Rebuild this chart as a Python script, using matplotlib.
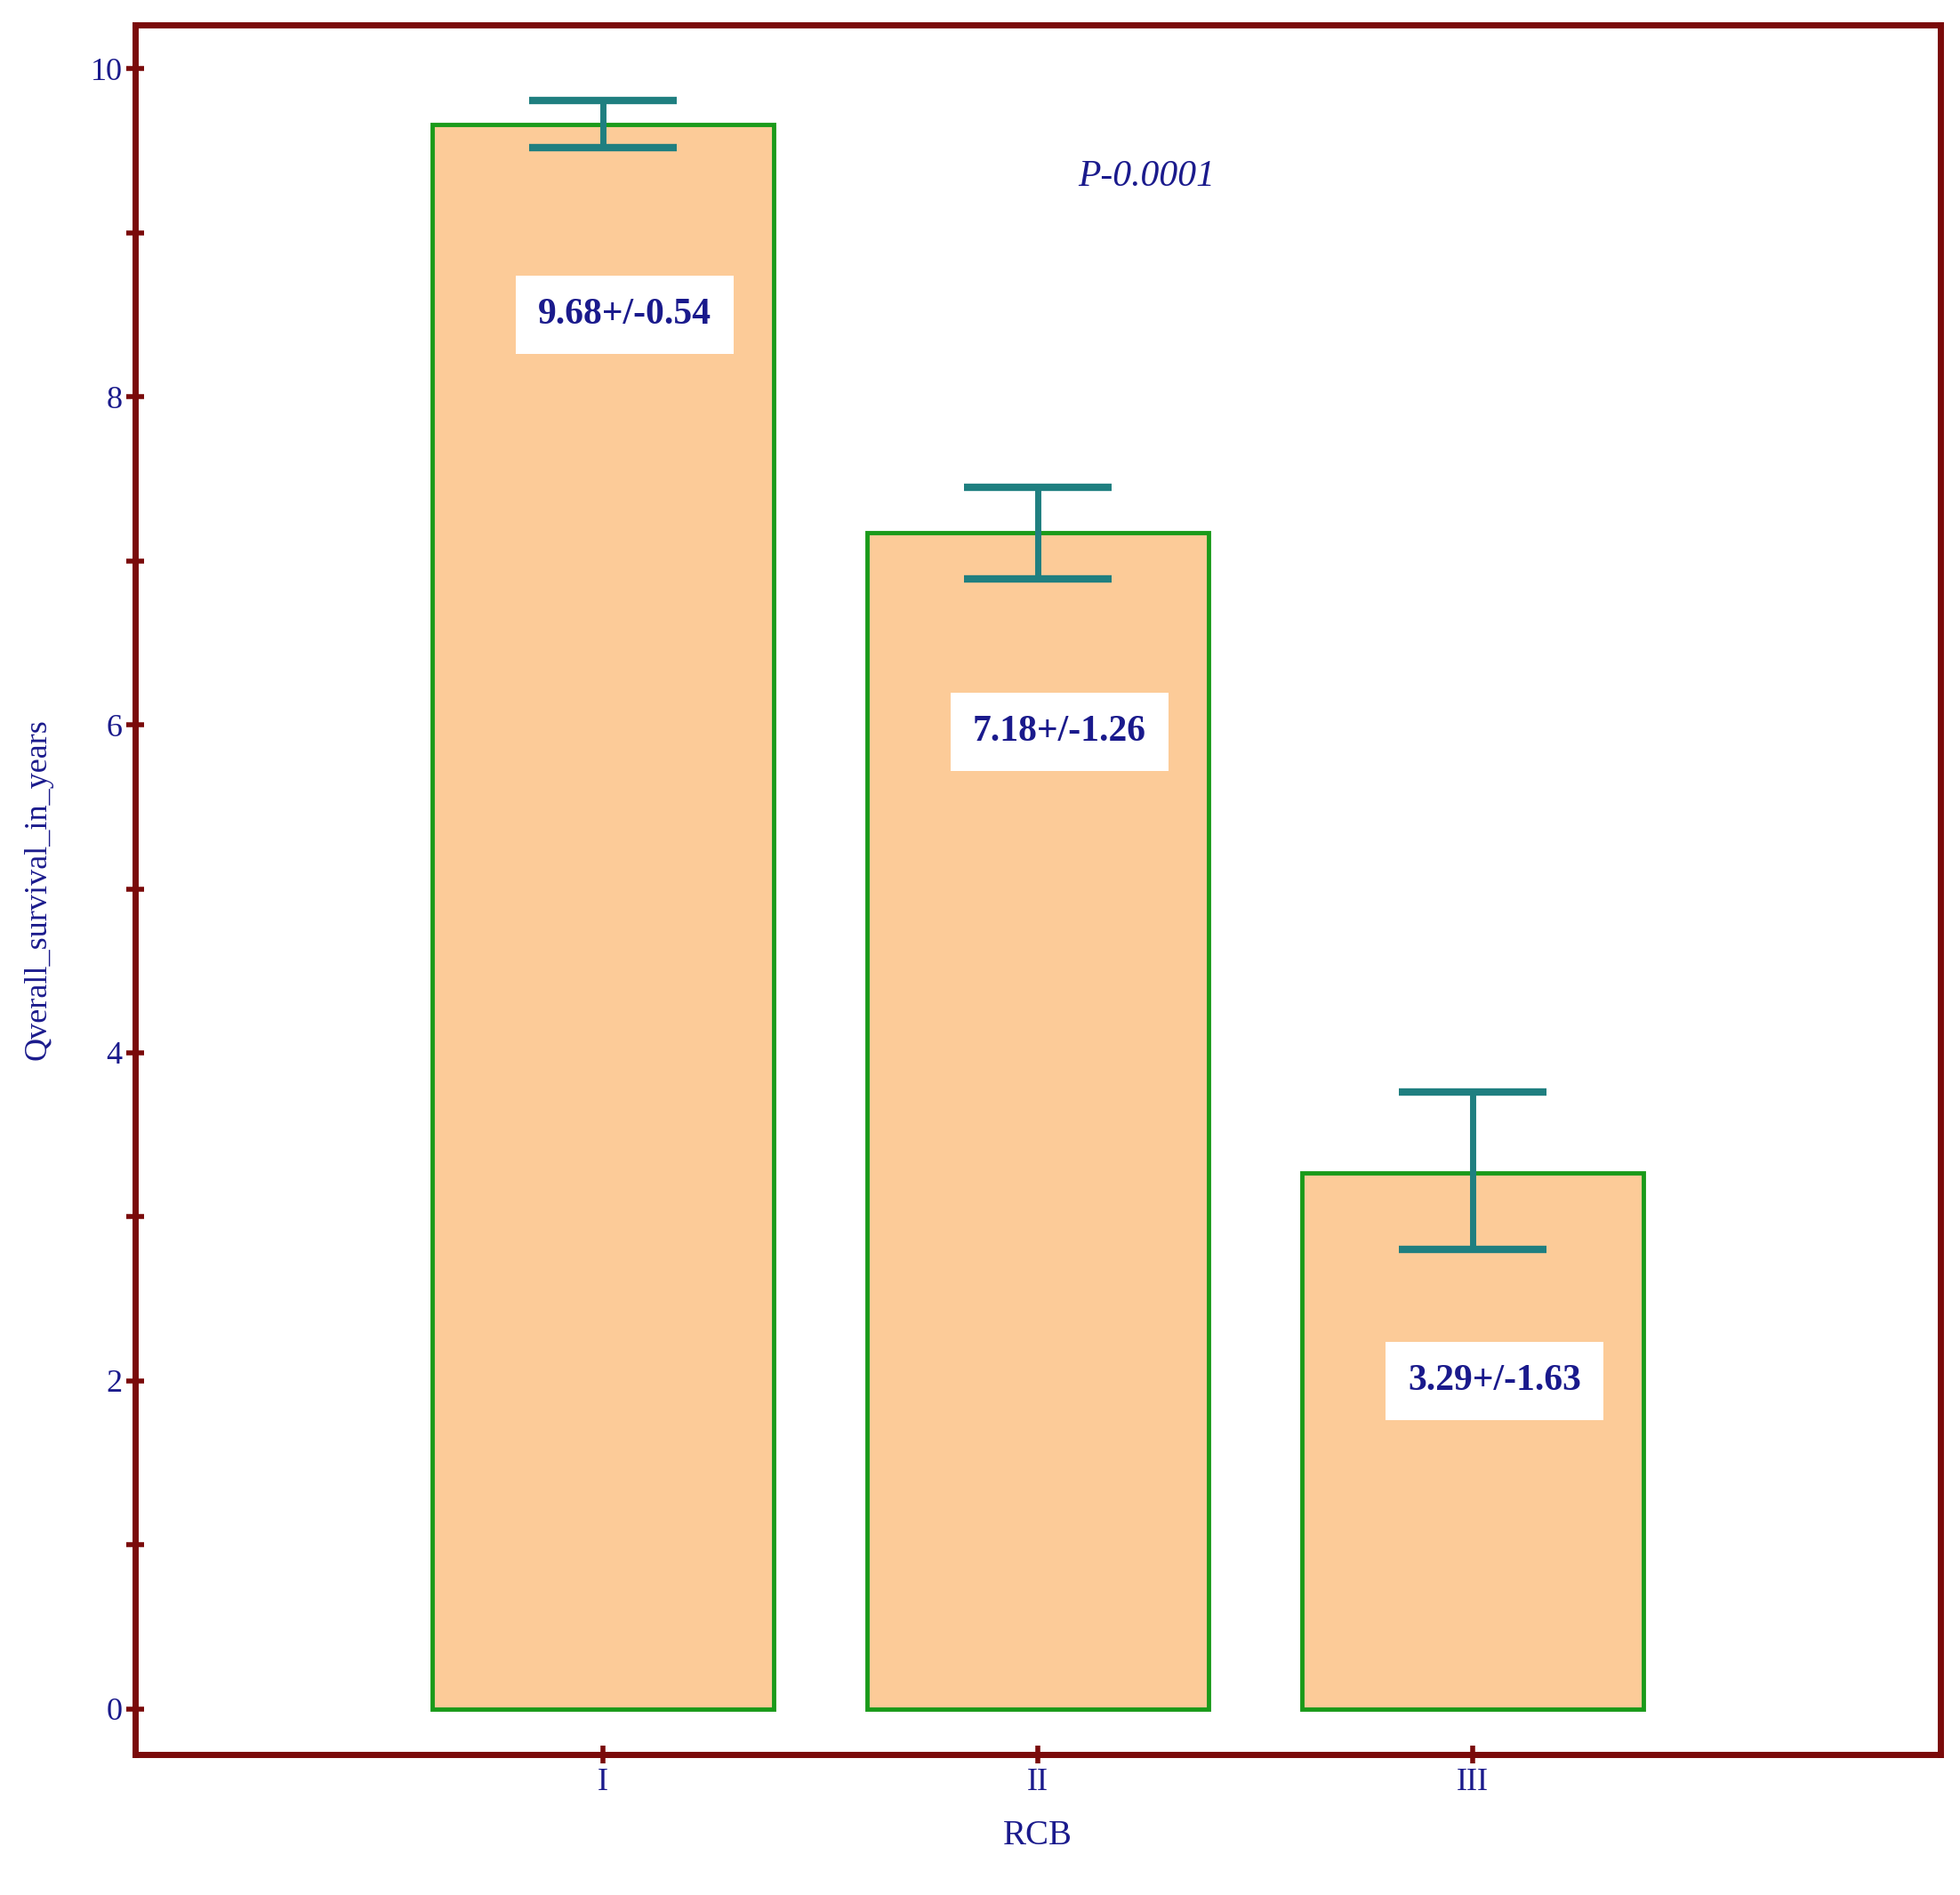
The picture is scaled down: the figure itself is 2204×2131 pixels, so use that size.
import matplotlib
matplotlib.use("Agg")
import matplotlib.pyplot as plt
import numpy as np

categories = ["I", "II", "III"]
means = [9.66, 7.17, 3.27]
err_low = [9.52, 6.89, 2.80]
err_high = [9.81, 7.45, 3.76]
labels = ["9.68+/-0.54", "7.18+/-1.26", "3.29+/-1.63"]
label_y = [8.5, 5.96, 2.0]

navy = "#1a1a8c"
red = "#7a0a0a"
fig = plt.figure(figsize=(22.04, 21.31), dpi=100)
ax = fig.add_axes([0.069, 0.074, 0.921, 0.913])
x = np.arange(len(categories))
ax.bar(x, means, width=0.785, color="#fccb98", edgecolor="#1a9a1a", linewidth=3.5, zorder=2)
lo = np.array(means) - np.array(err_low)
hi = np.array(err_high) - np.array(means)
ax.errorbar(x, means, yerr=[lo, hi], fmt="none", ecolor="#1f7f80", elinewidth=5, capsize=60, capthick=6, zorder=3)
for xi, t, yy in zip(x, labels, label_y):
    ax.text(xi + 0.05, yy, t, ha="center", va="center", fontsize=30, fontweight="bold", family="Liberation Serif",
            color=navy, bbox=dict(facecolor="white", edgecolor="none", pad=18), zorder=4)
ax.text(1.25, 9.34, "P-0.0001", fontsize=30, style="italic", family="Liberation Serif", color=navy, ha="center", va="center")
ax.set_xlim(-1.075, 3.075)
ax.set_ylim(-0.28, 10.27)
ax.set_xticks(x)
ax.set_xticklabels(categories)
ax.set_yticks(range(0, 11, 2))
ax.set_yticks(range(1, 10, 2), minor=True)
for s in ax.spines.values():
    s.set_color(red); s.set_linewidth(5)
ax.tick_params(axis="both", which="both", color=red, width=4, length=14, direction="inout")
ax.tick_params(axis="both", which="major", labelsize=26, labelcolor=navy)
for lab in ax.get_xticklabels() + ax.get_yticklabels():
    lab.set_family("Liberation Serif")
ax.set_xlabel("RCB", fontsize=28, family="Liberation Serif", color=navy, labelpad=18)
ax.set_ylabel("Qverall_survival_in_years", fontsize=26, family="Liberation Serif", color=navy, labelpad=30)
fig.savefig("out.png", dpi=100)
